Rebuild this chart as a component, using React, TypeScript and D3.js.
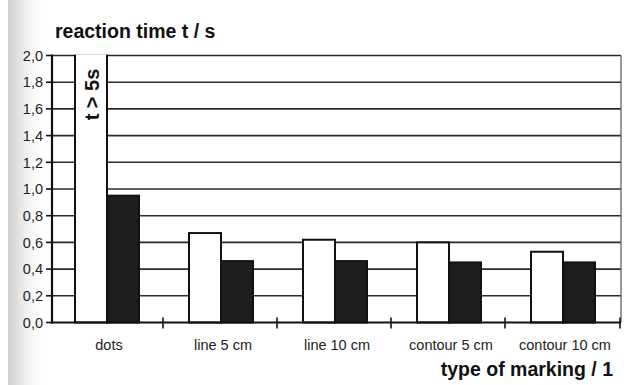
import React from "react";
import * as d3 from "d3";

const categories = ["dots", "line 5 cm", "line 10 cm", "contour 5 cm", "contour 10 cm"];
const series = ["white", "black"];
// first white value is "t > 5s" (beyond the axis) — clamped to the axis top
const whiteValues = [5.0, 0.67, 0.62, 0.6, 0.53];
const blackValues = [0.95, 0.46, 0.46, 0.45, 0.45];
const yTicks = [0, 0.2, 0.4, 0.6, 0.8, 1.0, 1.2, 1.4, 1.6, 1.8, 2.0];

const W = 624;
const H = 385;
const left = 52;
const right = 621;
const top = 55.5;
const bottom = 322.5;

export default function App() {
  const x = d3.scaleBand<string>().domain(categories).range([left - 1, right]).padding(0);
  const bw = x.bandwidth();
  const x1 = d3.scaleBand<string>().domain(series).range([24, 88]).padding(0);
  const y = d3.scaleLinear().domain([0, 2]).range([bottom, top]).clamp(true);
  const fmt = (v: number) => d3.format(".1f")(v).replace(".", ",");

  const gridColor = "#2a2a2a";
  const font = "'Liberation Sans', Arial, Helvetica, sans-serif";

  return (
    <svg width={W} height={H} style={{ position: "absolute", left: 0, top: 0 }} fontFamily={font}>
      <defs>
        <linearGradient id="shade" x1="0" x2="1" y1="0" y2="0">
          <stop offset="0" stopColor="#cfcfcf" />
          <stop offset="0.4" stopColor="#ececec" />
          <stop offset="1" stopColor="#ffffff" stopOpacity="0" />
        </linearGradient>
      </defs>
      <rect x={0} y={0} width={W} height={H} fill="#ffffff" />
      <rect x={8} y={0} width={40} height={H} fill="url(#shade)" />

      {/* title */}
      <text x={55} y={38} fontSize={19.5} fontWeight="bold" fill="#111">
        reaction time t / s
      </text>

      {/* gridlines */}
      {yTicks.filter((t) => t > 0).map((t) => (
        <line key={t} x1={left} x2={right} y1={y(t)} y2={y(t)} stroke={gridColor} strokeWidth={1.6} />
      ))}
      {/* right border */}
      <line x1={right} x2={right} y1={top} y2={bottom} stroke="#555" strokeWidth={1.2} />

      {/* bars */}
      {categories.map((c, i) => {
        const bx = x(c)!;
        const wx = bx + x1("white")!;
        const kx = bx + x1("black")!;
        const w = x1.bandwidth();
        const wv = whiteValues[i];
        const wy = wv > 2 ? top - 0.8 : y(wv);
        const open = wv > 2;
        return (
          <g key={c}>
            <rect x={wx} y={wy} width={w} height={bottom - wy} fill="#fff" stroke="none" />
            {open ? (
              <path
                d={`M${wx},${wy} V${bottom} H${wx + w} V${wy}`}
                fill="none"
                stroke="#111"
                strokeWidth={2}
              />
            ) : (
              <rect x={wx} y={wy} width={w} height={bottom - wy} fill="#fff" stroke="#111" strokeWidth={2} />
            )}
            <rect x={kx} y={y(blackValues[i])} width={w} height={bottom - y(blackValues[i])} fill="#1e1e1e" stroke="#111" strokeWidth={2} />
          </g>
        );
      })}

      {/* t > 5s */}
      <text
        transform={`translate(${x(categories[0])! + x1("white")! + x1.bandwidth() / 2 + 1},94.5) rotate(-90)`}
        textAnchor="middle"
        dy="0.35em"
        fontSize={20}
        fontWeight="bold"
        fill="#111"
      >
        t &gt; 5s
      </text>

      {/* axes */}
      <line x1={left} x2={left} y1={top - 1} y2={bottom + 1} stroke="#111" strokeWidth={2.2} />
      <line x1={left - 1} x2={right} y1={bottom} y2={bottom} stroke="#111" strokeWidth={2.2} />

      {/* y ticks */}
      {yTicks.map((t) => (
        <g key={t}>
          <line x1={left - 6} x2={left} y1={y(t)} y2={y(t)} stroke="#111" strokeWidth={1.6} />
          <text x={43} y={y(t)} dy="0.36em" textAnchor="end" fontSize={14.5} fill="#222">
            {fmt(t)}
          </text>
        </g>
      ))}

      {/* x ticks */}
      {categories.map((c, i) =>
        i === 0 ? null : (
          <line key={c} x1={x(c)! - 2} x2={x(c)! - 2} y1={bottom - 5} y2={bottom + 6} stroke="#111" strokeWidth={1.6} />
        )
      )}
      <line x1={right - 1} x2={right - 1} y1={bottom - 5} y2={bottom + 6} stroke="#111" strokeWidth={1.6} />

      {/* category labels */}
      {categories.map((c) => (
        <text key={c} x={x(c)! + bw / 2 + 1} y={350} textAnchor="middle" fontSize={14.5} fill="#222">
          {c}
        </text>
      ))}

      {/* x axis title */}
      <text x={613} y={376} textAnchor="end" fontSize={19.5} fontWeight="bold" fill="#111">
        type of marking / 1
      </text>
    </svg>
  );
}
